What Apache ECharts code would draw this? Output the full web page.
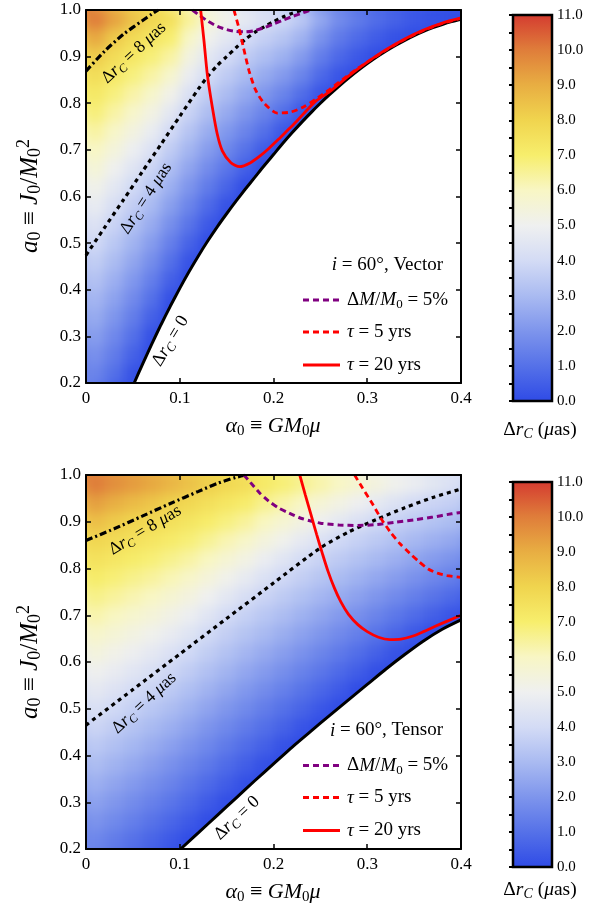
<!DOCTYPE html>
<html><head><meta charset="utf-8">
<script src="https://cdn.jsdelivr.net/npm/echarts@6/dist/echarts.min.js"></script>
<style>html,body{margin:0;padding:0;background:#fff}#c{width:610px;height:915px}</style>
</head><body><div id="c"></div>
<script>
// ---------- data ----------
const xCenters = [0.01,0.03,0.05,0.07,0.09,0.11,0.13,0.15,0.17,0.19,0.21,0.23,0.25,0.27,0.29,0.31,0.33,0.35,0.37,0.39];
const yCenters = [0.98,0.94,0.90,0.86,0.82,0.78,0.74,0.70,0.66,0.62,0.58,0.54,0.50,0.46,0.42,0.38,0.34,0.30,0.26,0.22];
// Δr_C (μas) per cell, rows top→bottom, columns left→right; missing tail = excluded region
const fieldVector = [
[10.0,9.22,8.45,7.9,7.57,6.49,5.62,5.12,4.65,4.25,3.93,3.43,2.52,1.79,1.32,0.93,0.62,0.37,0.2,0.1],
[9.1,8.26,7.75,7.38,6.97,5.93,5.1,4.56,4.05,3.67,3.34,2.81,1.96,1.29,0.84,0.47,0.18,0.05,0.02],
[8.2,7.68,7.27,6.86,6.37,5.37,4.57,4.0,3.55,3.14,2.75,2.19,1.4,0.79,0.36,0.05,0.02],
[7.65,7.24,6.8,6.35,5.77,4.81,4.03,3.53,3.05,2.6,2.16,1.57,0.84,0.29,0.05],
[7.25,6.8,6.32,5.83,5.17,4.25,3.56,3.06,2.55,2.06,1.57,0.95,0.28,0.05],
[6.85,6.35,5.85,5.31,4.57,3.76,3.11,2.58,2.05,1.53,0.98,0.33,0.05],
[6.4,5.91,5.38,4.8,3.98,3.31,2.66,2.1,1.55,0.99,0.38,0.05],
[6.0,5.47,4.9,4.28,3.55,2.87,2.2,1.63,1.05,0.46,0.05],
[5.6,5.02,4.43,3.82,3.13,2.43,1.75,1.15,0.55,0.05],
[5.15,4.58,3.96,3.41,2.7,1.99,1.3,0.68,0.05],
[4.75,4.13,3.59,3.01,2.28,1.55,0.85,0.2,0.02],
[4.35,3.76,3.22,2.61,1.86,1.11,0.4,0.02],
[3.95,3.41,2.85,2.2,1.43,0.67,0.05],
[3.6,3.07,2.47,1.8,1.01,0.23,0.02],
[3.25,2.72,2.1,1.39,0.58,0.05],
[2.9,2.37,1.73,0.99,0.16],
[2.6,2.03,1.36,0.59,0.05],
[2.25,1.68,0.99,0.18],
[1.9,1.33,0.61,0.05],
[1.55,0.99,0.24,0.02]
];
const fieldTensor = [
[10.0,9.64,9.37,9.1,8.79,8.5,8.13,7.86,7.64,7.19,6.9,6.6,6.3,6.0,5.7,5.4,5.1,4.85,4.55,4.3],
[9.28,8.95,8.65,8.38,8.07,7.85,7.58,7.32,7.06,6.61,6.3,5.97,5.62,5.3,4.97,4.65,4.33,3.99,3.8,3.64],
[8.56,8.23,7.96,7.79,7.58,7.36,7.06,6.77,6.47,6.03,5.69,5.33,4.95,4.6,4.24,3.94,3.71,3.47,3.27,3.08],
[7.91,7.72,7.52,7.34,7.11,6.87,6.55,6.21,5.89,5.45,5.09,4.69,4.27,3.93,3.69,3.46,3.21,2.95,2.73,2.52],
[7.5,7.3,7.09,6.89,6.64,6.38,6.03,5.66,5.3,4.87,4.48,4.05,3.76,3.49,3.24,2.98,2.72,2.44,2.19,1.96],
[7.09,6.87,6.65,6.44,6.17,5.89,5.51,5.11,4.72,4.29,3.92,3.61,3.33,3.05,2.78,2.51,2.22,1.92,1.65,1.4],
[6.68,6.45,6.22,5.99,5.71,5.39,4.99,4.56,4.13,3.8,3.5,3.2,2.9,2.61,2.33,2.03,1.72,1.41,1.11,0.84],
[6.27,6.03,5.78,5.54,5.24,4.9,4.47,4.01,3.69,3.39,3.09,2.78,2.47,2.17,1.87,1.56,1.23,0.89,0.57,0.28],
[5.86,5.61,5.35,5.09,4.77,4.41,3.96,3.62,3.29,2.99,2.68,2.36,2.04,1.73,1.41,1.08,0.73,0.37,0.05,0.02],
[5.45,5.19,4.92,4.64,4.3,3.93,3.57,3.23,2.9,2.59,2.27,1.94,1.62,1.29,0.96,0.61,0.24,0.05],
[5.04,4.77,4.49,4.19,3.86,3.54,3.18,2.84,2.5,2.18,1.86,1.52,1.19,0.85,0.5,0.13,0.02],
[4.63,4.35,4.05,3.78,3.48,3.15,2.79,2.45,2.1,1.78,1.44,1.1,0.76,0.41,0.05,0.02],
[4.22,3.93,3.67,3.39,3.09,2.76,2.4,2.05,1.71,1.37,1.03,0.68,0.33,0.02,0.01],
[3.83,3.56,3.29,3.01,2.7,2.37,2.01,1.66,1.31,0.97,0.62,0.26,0.02],
[3.46,3.19,2.92,2.63,2.32,1.98,1.63,1.27,0.91,0.57,0.21,0.02],
[3.1,2.82,2.54,2.24,1.93,1.59,1.24,0.88,0.52,0.16,0.02],
[2.73,2.45,2.16,1.86,1.55,1.2,0.85,0.49,0.12,0.02],
[2.37,2.08,1.79,1.48,1.16,0.81,0.46,0.1,0.02],
[2.0,1.71,1.41,1.09,0.77,0.42,0.07,0.02],
[1.64,1.34,1.04,0.71,0.39,0.05,0.02]
];
// contour curves (vector)
const vZeroX = [0.0514,0.06,0.07,0.08,0.09,0.10,0.11,0.12,0.13,0.14,0.15,0.16,0.17,0.18,0.19,0.20,0.21,0.22,0.23,0.24,0.25,0.26,0.27,0.28,0.29,0.30,0.31,0.32,0.33,0.34,0.35,0.36,0.37,0.38,0.39,0.40];
const vZeroY = [0.200,0.239,0.283,0.325,0.365,0.403,0.439,0.473,0.505,0.535,0.563,0.590,0.616,0.641,0.666,0.690,0.714,0.737,0.759,0.780,0.800,0.819,0.837,0.854,0.870,0.885,0.899,0.912,0.924,0.935,0.945,0.954,0.962,0.969,0.975,0.980];
const vFourX = [0,0.02,0.04,0.06,0.08,0.10,0.12,0.13,0.14,0.15,0.16,0.17,0.18,0.19,0.20,0.21,0.22,0.231];
const vFourY = [0.474,0.534,0.593,0.653,0.712,0.772,0.831,0.858,0.881,0.900,0.919,0.937,0.952,0.964,0.975,0.985,0.993,1.0];
const vEightX = [0,0.02,0.04,0.06,0.07,0.077];
const vEightY = [0.869,0.912,0.948,0.977,0.991,1.0];
const vMassX = [0.1135,0.12,0.13,0.14,0.15,0.16,0.17,0.18,0.19,0.20,0.21,0.22,0.23,0.24];
const vMassY = [1.0,0.99,0.976,0.965,0.958,0.954,0.953,0.956,0.962,0.970,0.978,0.986,0.993,1.0];
const vTau5X = [0.1578,0.163,0.168,0.174,0.181,0.19,0.204,0.218,0.232,0.246,0.26,0.275,0.29,0.305,0.32,0.34,0.36,0.38,0.40];
const vTau5Y = [1.0,0.962,0.919,0.869,0.828,0.80,0.779,0.781,0.792,0.81,0.83,0.853,0.875,0.895,0.914,0.937,0.956,0.971,0.982];
const vTau20X = [0.1223,0.1259,0.1294,0.1348,0.140,0.1454,0.1543,0.1638,0.175,0.185,0.195,0.205,0.215,0.225,0.235,0.246,0.26,0.28,0.30,0.32,0.34,0.36,0.38,0.40];
const vTau20Y = [1.0,0.933,0.862,0.791,0.734,0.698,0.673,0.664,0.672,0.686,0.703,0.722,0.742,0.762,0.784,0.806,0.825,0.858,0.888,0.915,0.938,0.957,0.972,0.983];
// contour curves (tensor)
const tZeroX = [0.101,0.12,0.14,0.16,0.18,0.20,0.22,0.24,0.26,0.28,0.30,0.32,0.34,0.36,0.38,0.40];
const tZeroY = [0.200,0.235,0.272,0.309,0.346,0.382,0.418,0.452,0.486,0.519,0.552,0.585,0.616,0.645,0.670,0.690];
const tFourX = [0,0.05,0.10,0.15,0.20,0.25,0.28,0.31,0.34,0.37,0.40];
const tFourY = [0.465,0.541,0.617,0.693,0.769,0.844,0.878,0.905,0.930,0.952,0.970];
const tEightX = [0,0.03,0.06,0.09,0.12,0.14,0.16,0.171];
const tEightY = [0.86,0.885,0.912,0.939,0.965,0.982,0.995,1.0];
const tMassX = [0.1684,0.175,0.185,0.195,0.205,0.215,0.23,0.25,0.27,0.29,0.31,0.33,0.35,0.37,0.39,0.40];
const tMassY = [1.0,0.985,0.962,0.944,0.93,0.92,0.907,0.897,0.893,0.892,0.894,0.899,0.904,0.91,0.917,0.92];
const tTau5X = [0.2865,0.295,0.305,0.315,0.325,0.335,0.345,0.355,0.365,0.375,0.385,0.40];
const tTau5Y = [1.0,0.972,0.94,0.906,0.877,0.853,0.833,0.815,0.799,0.79,0.785,0.781];
const tTau20X = [0.228,0.234,0.240,0.246,0.252,0.258,0.265,0.272,0.280,0.290,0.300,0.312,0.324,0.336,0.348,0.360,0.372,0.386,0.40];
const tTau20Y = [1.0,0.957,0.915,0.873,0.833,0.795,0.758,0.728,0.702,0.680,0.665,0.653,0.648,0.649,0.655,0.665,0.676,0.688,0.70];
// axis ranges / ticks
const xRange = [0, 0.4], xStep = 0.1;
const yRange = [0.2, 1.0], yStep = 0.1;
const barRange = [0, 11], barStep = 1;
const colorScale = ['#2e4ae6','#5470e8','#7d94ec','#a9baf1','#d3dbf5','#eff0f0','#f8f6c4','#f7ee6c','#f0d44e','#e8ad42','#df7c3a','#d43a30'];

// ---------- helpers ----------
const SERIF = '"Liberation Serif","DejaVu Serif",serif';
const CELL_HW = 0.01, CELL_HH = 0.02, PAD = 14;
const pairs = (xs, ys) => xs.map((x, i) => [x, ys[i]]);
function cells(field) {
  const out = [];
  field.forEach((row, r) => row.forEach((v, c) => { if (v != null) out.push([xCenters[c], yCenters[r], v]); }));
  return out;
}
function richStyles(size) {
  const sub = Math.round(size * 0.7);
  return {
    n: {fontFamily: SERIF, fontSize: size, color: '#000', lineHeight: size + 4},
    i: {fontFamily: SERIF, fontSize: size, fontStyle: 'italic', color: '#000', lineHeight: size + 4},
    s: {fontFamily: SERIF, fontSize: sub, color: '#000', verticalAlign: 'bottom', lineHeight: sub},
    si: {fontFamily: SERIF, fontSize: sub, fontStyle: 'italic', color: '#000', verticalAlign: 'bottom', lineHeight: sub},
    p: {fontFamily: SERIF, fontSize: sub, color: '#000', verticalAlign: 'top', lineHeight: sub}
  };
}
function makeCellRender(pad) {
  return function (params, api) {
    const x = api.value(0), y = api.value(1);
    const p0 = api.coord([x - CELL_HW, y + CELL_HH]);
    const p1 = api.coord([x + CELL_HW, y - CELL_HH]);
    return {type: 'rect', shape: {x: p0[0] - pad, y: p0[1] - pad, width: p1[0] - p0[0] + 0.7 + 2 * pad, height: p1[1] - p0[1] + 0.7 + 2 * pad},
            style: {fill: api.visual('color')}};
  };
}
function barRender(params, api) {
  const p0 = api.coord([0, barRange[1]]);
  const p1 = api.coord([1, barRange[0]]);
  const stops = colorScale.map((c, i) => ({offset: 1 - i / (colorScale.length - 1), color: c}));
  return {type: 'rect', shape: {x: p0[0], y: p0[1], width: p1[0] - p0[0], height: p1[1] - p0[1]},
          style: {fill: new echarts.graphic.LinearGradient(0, 0, 0, 1, stops), stroke: '#000', lineWidth: 2.5}};
}
const tickFmt = v => (Math.abs(v) < 1e-9 ? '0' : v.toFixed(1));
function xAx(grid, pos, labels) {
  return {type: 'value', gridIndex: grid, position: pos, min: xRange[0], max: xRange[1], interval: xStep, zlevel: 1, z: 10,
    axisLine: {show: true, onZero: false, lineStyle: {color: '#000', width: 2}},
    axisTick: {show: true, inside: true, length: 5, lineStyle: {color: '#000', width: 1.5}},
    splitLine: {show: false},
    axisLabel: {show: labels, formatter: tickFmt, fontFamily: SERIF, fontSize: 17, color: '#000', margin: 7}};
}
function yAx(grid, pos, labels) {
  return {type: 'value', gridIndex: grid, position: pos, min: yRange[0], max: yRange[1], interval: yStep, zlevel: 1, z: 10,
    axisLine: {show: true, onZero: false, lineStyle: {color: '#000', width: 2}},
    axisTick: {show: true, inside: true, length: 5, lineStyle: {color: '#000', width: 1.5}},
    splitLine: {show: false},
    axisLabel: {show: labels, formatter: v => v.toFixed(1), fontFamily: SERIF, fontSize: 17, color: '#000', margin: 5}};
}
function barY(grid) {
  return {type: 'value', gridIndex: grid, position: 'right', min: barRange[0], max: barRange[1], interval: barStep, zlevel: 1, z: 10,
    axisLine: {show: false},
    axisTick: {show: true, inside: true, length: 4, lineStyle: {color: '#000', width: 2}},
    minorTick: {show: true, splitNumber: 2, length: 4, lineStyle: {color: '#000', width: 2}},
    splitLine: {show: false}, minorSplitLine: {show: false},
    axisLabel: {formatter: v => v.toFixed(1), fontFamily: SERIF, fontSize: 15, color: '#000', margin: 5}};
}
function lineSeries(xi, yi, xs, ys, color, width, dash, z, area) {
  const s = {type: 'line', xAxisIndex: xi, yAxisIndex: yi, data: pairs(xs, ys), symbol: 'none', showSymbol: false,
    smooth: 0.25, silent: true, zlevel: 1, z: z, clip: true,
    lineStyle: {color: color, width: width, type: dash || 'solid', cap: 'butt'}};
  if (area) s.areaStyle = {color: '#ffffff', opacity: 1, origin: 'start'};
  return s;
}
const PURPLE = '#800080', RED = '#ff0000';
function panelSeries(xi, yi, zero, four, eight, mass, tau5, tau20, field) {
  const data = cells(field);
  return [
    {type: 'custom', xAxisIndex: xi, yAxisIndex: yi, renderItem: makeCellRender(PAD), data: data,
     dimensions: ['x', 'y', 'v'], encode: {x: 0, y: 1}, silent: true, zlevel: 0, z: 0, clip: false},
    {type: 'custom', xAxisIndex: xi, yAxisIndex: yi, renderItem: makeCellRender(0), data: data,
     dimensions: ['x', 'y', 'v'], encode: {x: 0, y: 1}, silent: true, zlevel: 0, z: 1, clip: false},
    lineSeries(xi, yi, zero[0], zero[1], '#000', 3, 'solid', 2, true),
    lineSeries(xi, yi, four[0], four[1], '#000', 3.2, [4, 4], 3),
    lineSeries(xi, yi, eight[0], eight[1], '#000', 3.2, [7, 3, 2, 3], 3),
    lineSeries(xi, yi, mass[0], mass[1], PURPLE, 3, [6, 4], 3),
    lineSeries(xi, yi, tau5[0], tau5[1], RED, 2.8, [6, 4], 3),
    lineSeries(xi, yi, tau20[0], tau20[1], RED, 2.8, 'solid', 3)
  ];
}
const seriesTop = panelSeries(0, 0, [vZeroX, vZeroY], [vFourX, vFourY], [vEightX, vEightY], [vMassX, vMassY], [vTau5X, vTau5Y], [vTau20X, vTau20Y], fieldVector);
const seriesBot = panelSeries(2, 2, [tZeroX, tZeroY], [tFourX, tFourY], [tEightX, tEightY], [tMassX, tMassY], [tTau5X, tTau5Y], [tTau20X, tTau20Y], fieldTensor);

const option = {
  animation: false,
  backgroundColor: 'transparent',
  grid: [
    {left: 86, top: 10, width: 375, height: 373},
    {left: 86, top: 475, width: 375, height: 374},
    {left: 513, top: 15, width: 39, height: 386},
    {left: 513, top: 482, width: 39, height: 385}
  ],
  xAxis: [
    xAx(0, 'bottom', true), xAx(0, 'top', false),
    xAx(1, 'bottom', true), xAx(1, 'top', false),
    {type: 'value', gridIndex: 2, min: 0, max: 1, show: false},
    {type: 'value', gridIndex: 3, min: 0, max: 1, show: false}
  ],
  yAxis: [
    yAx(0, 'left', true), yAx(0, 'right', false),
    yAx(1, 'left', true), yAx(1, 'right', false),
    barY(2), barY(3)
  ],
  visualMap: [{show: false, type: 'continuous', seriesIndex: [0, 1, 8, 9], dimension: 2, min: barRange[0], max: barRange[1],
    inRange: {color: colorScale}}],
  series: seriesTop.concat(seriesBot).concat([
    {type: 'custom', xAxisIndex: 4, yAxisIndex: 4, renderItem: barRender, data: [[0.5, 5.5]], silent: true, zlevel: 1, z: 1},
    {type: 'custom', xAxisIndex: 5, yAxisIndex: 5, renderItem: barRender, data: [[0.5, 5.5]], silent: true, zlevel: 1, z: 1}
  ])
};

const chart = echarts.init(document.getElementById('c'), null, {renderer: 'canvas'});
chart.setOption(option);

// ---------- annotations (all on the sharp layer, zlevel 1) ----------
const graphics = [];
function label(grid, x, y, rotDeg, text, size) {
  const p = chart.convertToPixel({xAxisIndex: grid * 2, yAxisIndex: grid * 2}, [x, y]);
  graphics.push({type: 'text', x: p[0], y: p[1], rotation: rotDeg * Math.PI / 180, zlevel: 1, z: 20, silent: true,
    style: {text: text, rich: richStyles(size), align: 'center', verticalAlign: 'middle'}});
}
function freeText(x, y, rotDeg, text, size, align) {
  graphics.push({type: 'text', x: x, y: y, rotation: rotDeg * Math.PI / 180, zlevel: 1, z: 20, silent: true,
    style: {text: text, rich: richStyles(size), align: align || 'center', verticalAlign: 'middle'}});
}
const DR = (tail) => '{n|Δ}{i|r}{si|C}{n| = ' + tail + '}';
label(0, 0.051, 0.908, 43, '{n|Δ}{i|r}{si|C}{n| = 8 }{i|μ}{n|as}', 17.5);
label(0, 0.064, 0.596, 57, '{n|Δ}{i|r}{si|C}{n| = 4 }{i|μ}{n|as}', 17.5);
label(0, 0.090, 0.290, 59, DR('0'), 18);
label(1, 0.063, 0.882, 31, '{n|Δ}{i|r}{si|C}{n| = 8 }{i|μ}{n|as}', 17.5);
label(1, 0.062, 0.512, 43, '{n|Δ}{i|r}{si|C}{n| = 4 }{i|μ}{n|as}', 17.5);
label(1, 0.161, 0.266, 43, DR('0'), 18);

function legendBlock(dy, model) {
  freeText(443, 265 + dy, 0, '{i|i}{n| = 60°, ' + model + '}', 19, 'right');
  const rows = [
    {y: 300, color: PURPLE, dash: [6, 4], text: '{n|Δ}{i|M}{n|/}{i|M}{s|0}{n| = 5%}'},
    {y: 332, color: RED, dash: [6, 4], text: '{i|τ}{n| = 5 yrs}'},
    {y: 365, color: RED, dash: null, text: '{i|τ}{n| = 20 yrs}'}
  ];
  rows.forEach(r => {
    graphics.push({type: 'line', zlevel: 1, z: 20, silent: true, shape: {x1: 303, y1: r.y + dy, x2: 340, y2: r.y + dy},
      style: {stroke: r.color, lineWidth: 3, lineDash: r.dash}});
    freeText(347, r.y + dy, 0, r.text, 19, 'left');
  });
}
legendBlock(0, 'Vector');
legendBlock(465.5, 'Tensor');

[0, 466].forEach(dy => {
  freeText(273, 426 + dy, 0, '{i|α}{s|0}{n| ≡ }{i|GM}{s|0}{i|μ}', 22);
  freeText(30, 196 + dy, 90, '{i|a}{s|0}{n| ≡ }{i|J}{s|0}{n|/}{i|M}{s|0}{p|2}', 25);
  freeText(540, 430 + dy - (dy ? 6 : 0), 0, '{n|Δ}{i|r}{si|C}{n| (}{i|μ}{n|as)}', 19.5);
});

chart.setOption({graphic: {elements: graphics}});

// soften the cell grid of the colour-field layer (zlevel 0) and keep it inside the two plot boxes
(function () {
  const root = document.getElementById('c');
  const cv = root.querySelector('canvas[data-zr-dom-id="zr_0"]') || root.querySelector('canvas');
  if (cv) {
    cv.style.filter = 'blur(6px)';
    cv.style.clipPath = 'polygon(86px 10px, 461px 10px, 461px 383px, 86px 383px, 86px 475px, 461px 475px, 461px 849px, 86px 849px)';
  }
})();
</script>
</body></html>
